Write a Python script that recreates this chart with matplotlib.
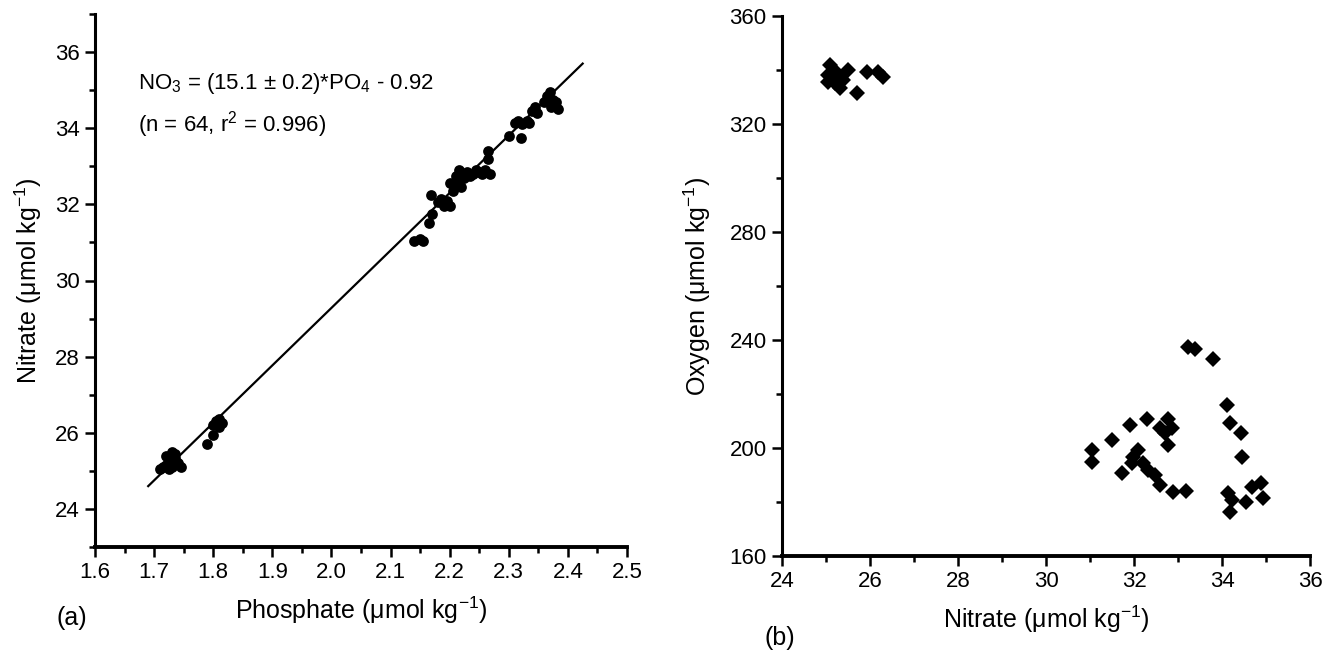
import matplotlib
matplotlib.use("Agg")
import matplotlib.pyplot as plt
import numpy as np
from matplotlib.ticker import MultipleLocator

plt.rcParams['font.family'] = ['Liberation Sans', 'DejaVu Sans']
plt.rcParams['mathtext.fontset'] = 'custom'
plt.rcParams['mathtext.rm'] = 'Liberation Sans'
plt.rcParams['mathtext.it'] = 'Liberation Sans:italic'
plt.rcParams['mathtext.default'] = 'regular'

# Panel (a): phosphate vs nitrate
phosphate = [1.71, 1.715, 1.72, 1.72, 1.725, 1.73, 1.73, 1.735, 1.74, 1.745, 1.725, 1.735,
             1.79, 1.80, 1.80, 1.805, 1.81, 1.815, 1.81,
             2.14, 2.15, 2.155, 2.165, 2.17, 2.168, 2.18, 2.185, 2.19, 2.195, 2.20, 2.20,
             2.205, 2.21, 2.212, 2.215, 2.22, 2.225, 2.23, 2.235, 2.24, 2.245, 2.25, 2.255,
             2.26, 2.265, 2.265, 2.268, 2.30, 2.31, 2.315, 2.32, 2.322, 2.33, 2.335, 2.34,
             2.345, 2.348, 2.36, 2.365, 2.37, 2.372, 2.375, 2.38, 2.383]
nitrate_a = [25.05, 25.1, 25.4, 25.15, 25.3, 25.5, 25.1, 25.35, 25.2, 25.1, 25.05, 25.45,
             25.7, 25.95, 26.2, 26.3, 26.15, 26.25, 26.35,
             31.05, 31.08, 31.05, 31.5, 31.75, 32.25, 32.05, 32.15, 31.95, 32.1, 31.95, 32.55,
             32.35, 32.75, 32.6, 32.9, 32.45, 32.7, 32.85, 32.75, 32.8, 32.9, 32.85, 32.8,
             32.9, 33.2, 33.4, 32.8, 33.8, 34.15, 34.2, 33.75, 34.1, 34.2, 34.15, 34.45,
             34.55, 34.4, 34.7, 34.85, 34.95, 34.55, 34.75, 34.7, 34.5]
fit_slope = 15.1
fit_intercept = -0.92
fit_range = [1.69, 2.425]

# Panel (b): nitrate vs oxygen
nitrate_b = [25.09, 25.05, 25.05, 25.2, 25.32, 25.5, 25.25, 25.7, 25.93, 26.18, 26.3, 25.39,
             33.23, 33.39, 33.80, 34.11, 34.18, 34.43, 34.45, 31.91, 32.30, 32.77, 32.59,
             32.86, 32.70, 32.77, 31.5, 31.05, 31.05, 32.09, 31.98, 31.95, 32.2, 32.32,
             32.48, 31.73, 32.59, 32.89, 33.18, 34.14, 34.23, 34.18, 34.55, 34.68, 34.89, 34.93]
oxygen = [341.9, 338.1, 335.6, 335.2, 333.3, 340.0, 338.9, 331.5, 339.3, 339.3, 337.4, 336.3,
          237.4, 236.7, 233.0, 215.9, 209.3, 205.6, 196.7, 208.5, 210.7, 210.7, 207.4,
          207.4, 205.6, 201.1, 203.0, 199.3, 194.8, 199.3, 196.7, 194.4, 194.4, 191.9,
          190.0, 190.7, 186.3, 183.7, 184.1, 183.3, 180.7, 176.3, 180.0, 185.6, 187.0, 181.5]

W, H = 1334, 657
fig = plt.figure(figsize=(W / 100, H / 100), dpi=100)

def px_axes(x0, y0, x1, y1):
    return fig.add_axes([x0 / W, 1 - y1 / H, (x1 - x0) / W, (y1 - y0) / H])

ax1 = px_axes(95, 14, 627, 547)
ax2 = px_axes(782, 16, 1310, 556)

fs = 16
lab_fs = 18
for ax in (ax1, ax2):
    for s in ('top', 'right'):
        ax.spines[s].set_visible(False)
    ax.spines['left'].set_linewidth(2.2)
    ax.spines['bottom'].set_linewidth(2.8)
    ax.tick_params(which='major', direction='out', length=7, width=1.8, labelsize=fs, pad=4)
    ax.tick_params(which='minor', direction='out', length=4, width=1.8)

# Panel (a)
ax1.scatter(phosphate, nitrate_a, s=60, color='black', marker='o', linewidths=0, zorder=3)
fx = np.array(fit_range)
ax1.plot(fx, fit_slope * fx + fit_intercept, color='black', lw=1.6, zorder=2)
ax1.set_xlim(1.6, 2.5)
ax1.set_ylim(23, 37)
ax1.xaxis.set_minor_locator(MultipleLocator(0.05))
ax1.yaxis.set_minor_locator(MultipleLocator(1))
ax1.set_yticks([24, 26, 28, 30, 32, 34, 36])
xt = np.round(np.arange(1.6, 2.51, 0.1), 1)
ax1.set_xticks(xt)
ax1.set_xticklabels([f"{v:.1f}" for v in xt])
ax1.set_xlabel('Phosphate (μmol kg$^{-1}$)', fontsize=lab_fs, labelpad=8)
ax1.set_ylabel('Nitrate (μmol kg$^{-1}$)', fontsize=lab_fs, labelpad=8)
ax1.text(0.08, 0.869, 'NO$_3$ = (15.1 ± 0.2)*PO$_4$ - 0.92', transform=ax1.transAxes,
         fontsize=fs, ha='left', va='center')
ax1.text(0.08, 0.792, '(n = 64, r$^2$ = 0.996)', transform=ax1.transAxes,
         fontsize=fs, ha='left', va='center')
fig.text(57 / W, 1 - 618 / H, '(a)', fontsize=18, ha='left', va='center')

# Panel (b)
ax2.plot(nitrate_b, oxygen, linestyle='none', marker='D', markersize=8, color='black',
         markeredgewidth=0, zorder=3)
ax2.set_xlim(24, 36)
ax2.set_ylim(160, 360)
ax2.xaxis.set_major_locator(MultipleLocator(2))
ax2.xaxis.set_minor_locator(MultipleLocator(1))
ax2.yaxis.set_major_locator(MultipleLocator(40))
ax2.yaxis.set_minor_locator(MultipleLocator(20))
ax2.set_xlabel('Nitrate (μmol kg$^{-1}$)', fontsize=lab_fs, labelpad=8)
ax2.set_ylabel('Oxygen (μmol kg$^{-1}$)', fontsize=lab_fs, labelpad=12)
fig.text(765 / W, 1 - 638 / H, '(b)', fontsize=18, ha='left', va='center')

fig.savefig('out.png', dpi=100)
